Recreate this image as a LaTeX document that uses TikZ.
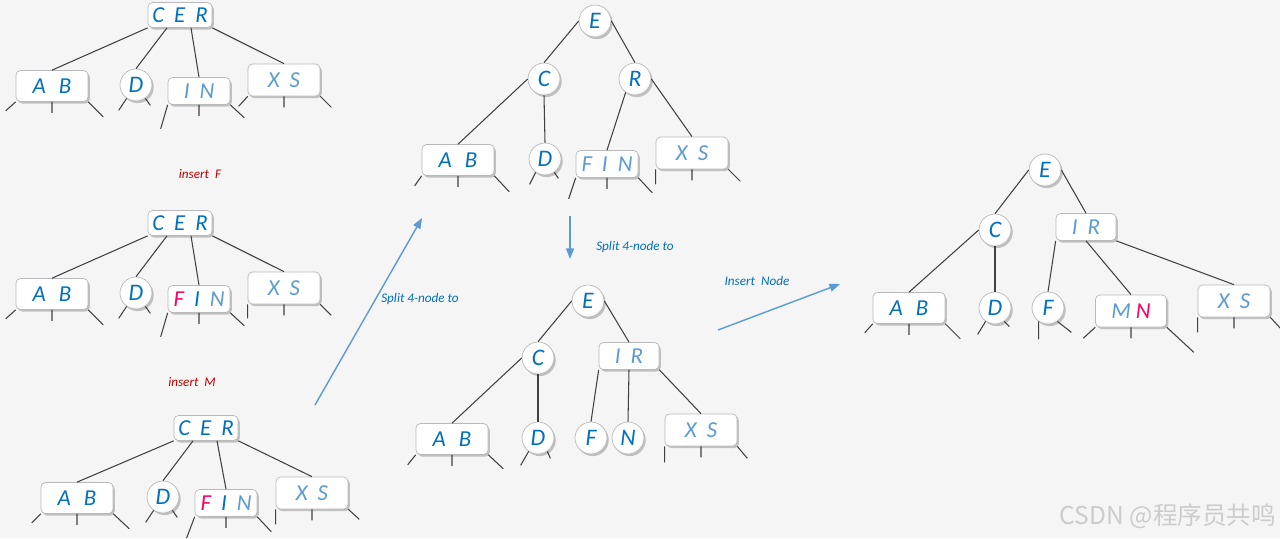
\documentclass[tikz,border=0pt]{standalone}
\usepackage{fontspec}
\setmainfont{Carlito}
\newfontfamily\cjk{Noto Sans CJK SC}
\usetikzlibrary{shadows,arrows.meta}

\definecolor{keydark}{RGB}{0,112,192}
\definecolor{keylight}{RGB}{91,155,213}
\definecolor{keynew}{RGB}{255,0,102}
\definecolor{steptext}{RGB}{192,0,0}
\definecolor{bgcol}{RGB}{245,245,245}

\pgfdeclareverticalshading{boxshade}{100bp}{color(0bp)=(gray!55); color(25bp)=(white); color(100bp)=(white)}
\pgfdeclareradialshading{ballshade}{\pgfpoint{-6bp}{8bp}}{color(0bp)=(white); color(24bp)=(white); color(50bp)=(gray!60)}

\newcommand{\kgap}{\hspace{0.2cm}}
% leaves under a box / a ball: left and right vectors
\newcommand{\boxstubs}[3]{\draw[stub] (#1.south west) -- ++#2 (#1.south) -- ++(0,11) (#1.south east) -- ++#3;}
\newcommand{\ballstubs}[3]{\draw[stub] (#1.235) -- ++#2 (#1.305) -- ++#3;}

\begin{document}
\begin{tikzpicture}[x=0.02cm,y=-0.02cm,>={Triangle[length=6pt,width=4.5pt]},
  keybox/.style={draw=gray!55, line width=0.4pt, rounded corners=2.5pt, shading=boxshade,
    drop shadow={opacity=0.45, shadow xshift=1pt, shadow yshift=-1.2pt},
    inner sep=0pt, text=keydark, font=\itshape\fontsize{13}{14}\selectfont},
  keyball/.style={circle, draw=gray!55, line width=0.4pt, shading=ballshade, minimum size=0.64cm,
    drop shadow={opacity=0.45, shadow xshift=1pt, shadow yshift=-1.2pt},
    inner sep=0pt, text=keydark, font=\itshape\fontsize{13.5}{14}\selectfont},
  wcer/.style={minimum width=1.28cm, minimum height=0.5cm},
  wab/.style={minimum width=1.44cm, minimum height=0.62cm},
  win/.style={minimum width=1.24cm, minimum height=0.54cm},
  wxs/.style={minimum width=1.44cm, minimum height=0.64cm},
  link/.style={draw=black!75, line width=0.6pt},
  stub/.style={draw=black!75, line width=0.6pt},
  steplabel/.style={text=steptext, font=\itshape\fontsize{7.5}{9}\selectfont},
  movelabel/.style={text=keydark, font=\itshape\fontsize{7.5}{9}\selectfont},
  move/.style={->, draw=keylight, line width=0.8pt}]

\useasboundingbox[fill=bgcol] (0,0) rectangle (1280,538);

% --- tree 1: before insert F ---
\node[keybox,wcer] (t1cer) at (180,15) {C\kgap E\kgap R};
\node[keybox,wab] (t1ab) at (52,86) {A\hspace{0.26cm}B};
\node[keyball] (t1d) at (136,85) {D};
\node[keybox,win,text=keylight] (t1in) at (199,91) {I\kgap N};
\node[keybox,wxs,text=keylight] (t1xs) at (284,80) {X\kgap S};
\draw[link] (t1cer.south west) -- (t1ab.north);
\draw[link] ([xshift=-0.26cm]t1cer.south) -- (t1d.north);
\draw[link] ([xshift=0.22cm]t1cer.south) -- (t1in.north);
\draw[link] (t1cer.south east) -- (t1xs.north);
\boxstubs{t1ab}{(-10,9)}{(15,15)}
\ballstubs{t1d}{(-8,12)}{(5,7)}
\boxstubs{t1in}{(-7,24)}{(14,13)}
\boxstubs{t1xs}{(-9,10)}{(11,11)}

\node[steplabel] (insf) at (200,174) {insert\ \ F};

% --- tree 2: F in the 3-node ---
\node[keybox,wcer] (t2cer) at (180,223) {C\kgap E\kgap R};
\node[keybox,wab] (t2ab) at (52,294) {A\hspace{0.26cm}B};
\node[keyball] (t2d) at (136,293) {D};
\node[keybox,win] (t2fin) at (199,299) {\textcolor{keynew}{F}\kgap I\kgap\textcolor{keylight}{N}};
\node[keybox,wxs,text=keylight] (t2xs) at (284,288) {X\kgap S};
\draw[link] (t2cer.south west) -- (t2ab.north);
\draw[link] ([xshift=-0.26cm]t2cer.south) -- (t2d.north);
\draw[link] ([xshift=0.22cm]t2cer.south) -- (t2fin.north);
\draw[link] (t2cer.south east) -- (t2xs.north);
\boxstubs{t2ab}{(-10,9)}{(15,15)}
\ballstubs{t2d}{(-8,12)}{(5,7)}
\boxstubs{t2fin}{(-7,24)}{(14,13)}
\boxstubs{t2xs}{(0,14)}{(11,11)}

\node[steplabel] (insm) at (192,382) {insert\ \ M};

% --- tree 3: before insert M ---
\node[keybox,wcer] (t3cer) at (206,428) {C\kgap E\kgap R};
\node[keybox,wab] (t3ab) at (77,498) {A\hspace{0.26cm}B};
\node[keyball] (t3d) at (163,497) {D};
\node[keybox,win] (t3fin) at (226,503) {\textcolor{keynew}{F}\kgap I\kgap\textcolor{keylight}{N}};
\node[keybox,wxs,text=keylight] (t3xs) at (312,493) {X\kgap S};
\draw[link] (t3cer.south west) -- (t3ab.north);
\draw[link] ([xshift=-0.26cm]t3cer.south) -- (t3d.north);
\draw[link] ([xshift=0.22cm]t3cer.south) -- (t3fin.north);
\draw[link] (t3cer.south east) -- (t3xs.north);
\boxstubs{t3ab}{(-9,9)}{(16,15)}
\ballstubs{t3d}{(-8,12)}{(5,7)}
\boxstubs{t3fin}{(-8,21)}{(14,15)}
\boxstubs{t3xs}{(0,15)}{(11,10)}

% arrow up to tree 4
\coordinate (m1s) at (315,405);
\coordinate (m1e) at (422,218);
\draw[move] (m1s) -- (m1e);
\node[movelabel] (m1l) at (420,299) {Split 4-node to};

% --- tree 4: root split ---
\node[keyball] (t4e) at (595,21) {E};
\node[keyball] (t4c) at (544,79) {C};
\node[keyball] (t4r) at (635,79) {R};
\node[keybox,wab] (t4ab) at (458,160) {A\hspace{0.26cm}B};
\node[keyball] (t4d) at (545,159) {D};
\node[keybox,win,text=keylight] (t4fin) at (607,164) {F\kgap I\kgap N};
\node[keybox,wxs,text=keylight] (t4xs) at (692,153) {X\kgap S};
\draw[link] (t4e.west) -- (t4c.north);
\draw[link] (t4e.east) -- (t4r.north);
\draw[link] (t4c.west) -- (t4ab.north);
\draw[link] (t4c.south) -- (t4d.north);
\draw[link] (t4r.235) -- (t4fin.north);
\draw[link] (t4r.east) -- (t4xs.north);
\boxstubs{t4ab}{(-7,10)}{(15,16)}
\ballstubs{t4d}{(-6,12)}{(4,6)}
\boxstubs{t4fin}{(-7,21)}{(14,15)}
\boxstubs{t4xs}{(0,15)}{(12,12)}

% arrow down to tree 5
\coordinate (m2s) at (570,216);
\coordinate (m2e) at (570,259);
\draw[move] (m2s) -- (m2e);
\node[movelabel] (m2l) at (635,247) {Split 4-node to};

% --- tree 5: F I N split ---
\node[keyball] (t5e) at (588,301) {E};
\node[keyball] (t5c) at (538,358) {C};
\node[keybox,minimum width=1.2cm,minimum height=0.54cm,text=keylight] (t5ir) at (629,356) {I\kgap R};
\node[keybox,wab] (t5ab) at (452,439) {A\hspace{0.26cm}B};
\node[keyball] (t5d) at (538,438) {D};
\node[keyball] (t5f) at (591,438) {F};
\node[keyball] (t5n) at (628,438) {N};
\node[keybox,wxs,text=keylight] (t5xs) at (701,430) {X\kgap S};
\draw[link] (t5e.west) -- (t5c.north);
\draw[link] (t5e.east) -- (t5ir.north);
\draw[link] (t5c.west) -- (t5ab.north);
\draw[link] (t5c.south) -- (t5d.north);
\draw[link] (t5ir.south west) -- (t5f.north);
\draw[link] (t5ir.south) -- (t5n.north);
\draw[link] (t5ir.south east) -- (t5xs.north);
\boxstubs{t5ab}{(-8,10)}{(15,14)}
\ballstubs{t5d}{(-8,14)}{(3,7)}
\boxstubs{t5xs}{(0,16)}{(10,12)}

% arrow right to tree 6
\coordinate (m3s) at (718,330);
\coordinate (m3e) at (840,284);
\draw[move] (m3s) -- (m3e);
\node[movelabel] (m3l) at (757,281) {Insert\ \ Node};

% --- tree 6: M inserted ---
\node[keyball] (t6e) at (1045,170) {E};
\node[keyball] (t6c) at (995,230) {C};
\node[keybox,minimum width=1.2cm,minimum height=0.54cm,text=keylight] (t6ir) at (1086,227) {I\kgap R};
\node[keybox,wab] (t6ab) at (909,308) {A\hspace{0.26cm}B};
\node[keyball] (t6d) at (995,308) {D};
\node[keyball] (t6f) at (1048,308) {F};
\node[keybox,minimum width=1.42cm,minimum height=0.64cm,text=keylight] (t6mn) at (1131,311) {M\hspace{0.1cm}\textcolor{keynew}{N}};
\node[keybox,wxs,text=keylight] (t6xs) at (1234,301) {X\kgap S};
\draw[link] (t6e.west) -- (t6c.north);
\draw[link] (t6e.east) -- (t6ir.north);
\draw[link] (t6c.west) -- (t6ab.north);
\draw[link] (t6c.south) -- (t6d.north);
\draw[link] (t6ir.south west) -- (t6f.north);
\draw[link] (t6ir.south) -- (t6mn.north);
\draw[link] (t6ir.south east) -- (t6xs.north);
\boxstubs{t6ab}{(-8,9)}{(15,15)}
\ballstubs{t6d}{(-8,13)}{(5,5)}
\ballstubs{t6f}{(0,18)}{(14,11)}
\boxstubs{t6mn}{(-12,11)}{(27,25)}
\boxstubs{t6xs}{(0,15)}{(11,12)}

% watermark
\node[text=gray!40, font=\cjk\fontsize{14}{16}\selectfont] (mark) at (1168,516) {CSDN @程序员共鸣};

\end{tikzpicture}
\end{document}
